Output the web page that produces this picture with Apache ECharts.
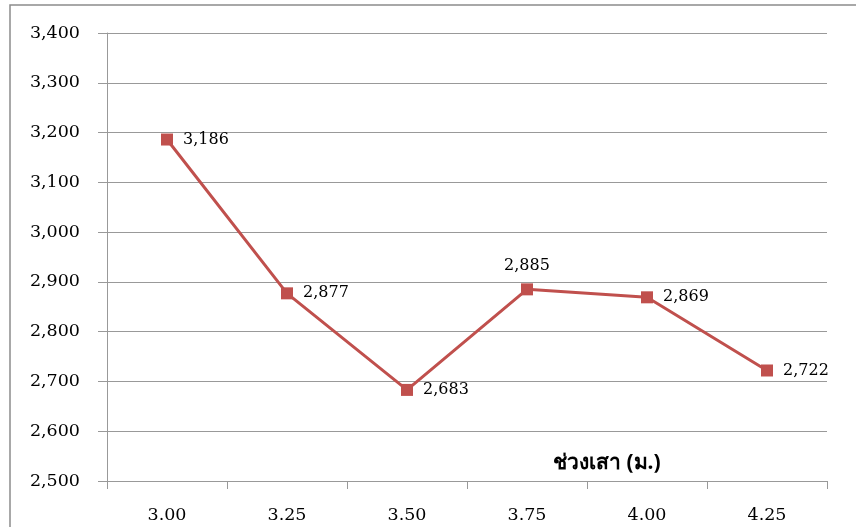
<!DOCTYPE html>
<html>
<head>
<meta charset="utf-8">
<script src="https://cdn.jsdelivr.net/npm/echarts@6/dist/echarts.min.js"></script>
<style>
  html, body { margin: 0; padding: 0; background: #fff; }
  #chart { width: 856px; height: 527px; }
</style>
</head>
<body>
<div id="chart"></div>
<script>
const spans = ["3.00", "3.25", "3.50", "3.75", "4.00", "4.25"];
const values = [3186, 2877, 2683, 2885, 2869, 2722];
const labelPos = ["right", "right", "right", "top", "right", "right"];

const serif = "'DejaVu Serif', 'Liberation Serif', serif";
const fmt = (v) => v.toLocaleString("en-US");

const chart = echarts.init(document.getElementById("chart"));

chart.setOption({
  animation: false,
  textStyle: { fontFamily: serif },
  grid: { left: 107, right: 29, top: 33, bottom: 46, containLabel: false },
  graphic: [
    {
      type: "rect",
      shape: { x: 10, y: 5, width: 900, height: 600 },
      style: { fill: "none", stroke: "#8c8c8c", lineWidth: 1.5 },
      silent: true
    },
    {
      type: "text",
      left: 553,
      top: 453,
      style: {
        text: "ช่วงเสา (ม.)",
        font: "bold 21px 'Noto Sans', 'DejaVu Sans', sans-serif",
        fill: "#000"
      }
    }
  ],
  xAxis: {
    type: "category",
    data: spans,
    boundaryGap: true,
    axisLine: { lineStyle: { color: "#999", width: 1 } },
    axisTick: { show: true, length: 8, lineStyle: { color: "#999" } },
    axisLabel: { color: "#000", fontSize: 17.5, fontFamily: serif, margin: 25 }
  },
  yAxis: {
    type: "value",
    min: 2500,
    max: 3400,
    interval: 100,
    axisLine: { show: true, lineStyle: { color: "#999", width: 1 } },
    axisTick: { show: true, length: 9, lineStyle: { color: "#999" } },
    splitLine: { lineStyle: { color: "#999", width: 1 } },
    axisLabel: { color: "#000", fontSize: 17.5, fontFamily: serif, margin: 27, formatter: fmt }
  },
  series: [
    {
      type: "line",
      data: values.map((v, i) => ({ value: v, label: { position: labelPos[i] } })),
      symbol: "rect",
      symbolSize: 12,
      itemStyle: { color: "#c0504d" },
      lineStyle: { color: "#c0504d", width: 3 },
      label: {
        show: true,
        color: "#000",
        fontSize: 16,
        fontFamily: serif,
        distance: 10,
        formatter: (p) => fmt(p.value)
      }
    }
  ]
});
</script>
</body>
</html>
